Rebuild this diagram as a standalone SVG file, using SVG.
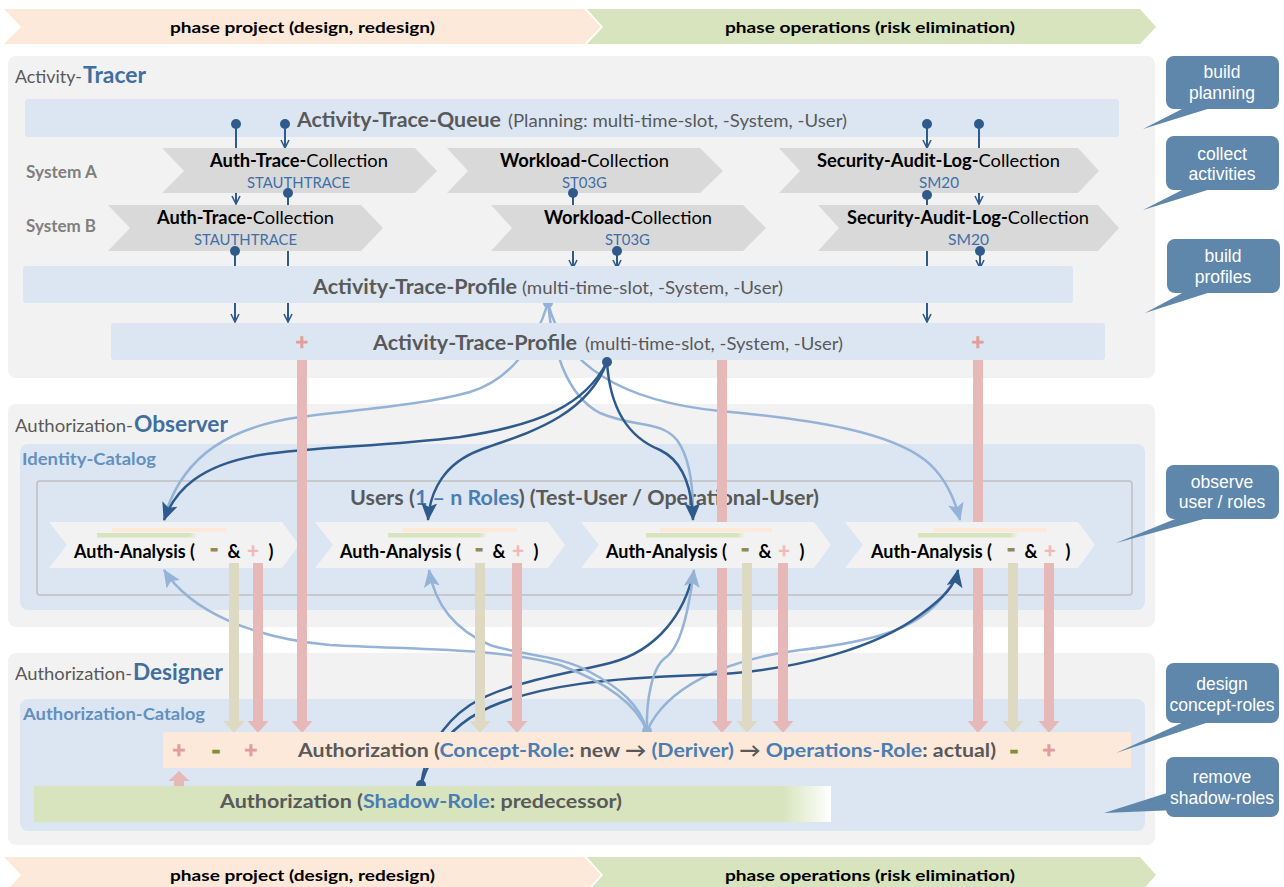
<svg xmlns="http://www.w3.org/2000/svg" width="1284" height="887" viewBox="0 0 1284 887">
<defs>
<style>
text{font-family:Lato,'Liberation Sans',sans-serif}
.b{font-weight:700}
.g{fill:#595959}
.k{fill:#000}
.tb{fill:#3F6FA0}
.lb{fill:#4A7DB3}
.cb{fill:#6390BF}
.st{fill:#3F6FA8}
.sy{fill:#7F7F7F}
.panel{fill:#F2F2F2}
.cat{fill:#DCE6F2}
.bar{fill:#DCE6F2}
.chev{fill:#D9D9D9}
.ach{fill:#F2F2F2}
.dot{fill:#2F5A8C}
.ln{stroke:#2F5A8C;stroke-width:2;fill:none}
.cl{stroke:#95B3D7;stroke-width:2.5;fill:none}
.cd{stroke:#2F5A8C;stroke-width:2.5;fill:none}
.pk{fill:#E6B9B8}
.bg{fill:#DDD9C3}
.pl{fill:#E39D9C;stroke:#E39D9C;stroke-width:0.6}
.ol{fill:#948A54;stroke:#948A54;stroke-width:1.2}
.gr{fill:#77933C;stroke:#77933C;stroke-width:1.2}
.pa{fill:#F0B9B8;stroke:#F0B9B8;stroke-width:0.4}
.co{fill:#5E87AB}
.ct{font-family:'Liberation Sans',Arial,sans-serif;font-size:17.5px;fill:#FFFFFF;text-anchor:middle}
</style>
<marker id="as" viewBox="0 0 10 10" refX="9" refY="5" markerWidth="10" markerHeight="10" markerUnits="userSpaceOnUse" orient="auto"><path d="M1,1 L9,5 L1,9" fill="none" stroke="#2F5A8C" stroke-width="1.6"/></marker>
<marker id="aD" viewBox="0 0 18 16" refX="17" refY="8" markerWidth="18" markerHeight="16" markerUnits="userSpaceOnUse" orient="auto"><path d="M0,0 L18,8 L0,16 L4,8 Z" fill="#2F5A8C"/></marker>
<marker id="aL" viewBox="0 0 18 16" refX="17" refY="8" markerWidth="18" markerHeight="16" markerUnits="userSpaceOnUse" orient="auto"><path d="M0,0 L18,8 L0,16 L4,8 Z" fill="#95B3D7"/></marker>
<linearGradient id="shg" x1="34" y1="0" x2="831" y2="0" gradientUnits="userSpaceOnUse"><stop offset="0" stop-color="#D7E4BD"/><stop offset="0.94" stop-color="#D7E4BD"/><stop offset="1" stop-color="#FFFFFF"/></linearGradient>
<linearGradient id="gf" x1="0" y1="0" x2="1" y2="0"><stop offset="0" stop-color="#D7E4BD"/><stop offset="0.92" stop-color="#D7E4BD"/><stop offset="1" stop-color="#F2F2F2"/></linearGradient>
</defs>

<g id="banner-top">
<polygon points="4,9 584,9 601,27 584,44 4,44 21,27" fill="#FDE9D9"/>
<polygon points="587,9 1140,9 1156,27 1140,44 587,44 603,27" fill="#D7E4BD"/>
<text x="170" y="33" font-size="16" class="b k" textLength="265" lengthAdjust="spacingAndGlyphs">phase project (design, redesign)</text>
<text x="725" y="33" font-size="16" class="b k" textLength="290" lengthAdjust="spacingAndGlyphs">phase operations (risk elimination)</text>
</g>
<g id="banner-bottom">
<polygon points="4,857 584,857 601,875 584,893 4,893 21,875" fill="#FDE9D9"/>
<polygon points="587,857 1140,857 1156,875 1140,893 587,893 603,875" fill="#D7E4BD"/>
<text x="170" y="881" font-size="16" class="b k" textLength="265" lengthAdjust="spacingAndGlyphs">phase project (design, redesign)</text>
<text x="725" y="881" font-size="16" class="b k" textLength="290" lengthAdjust="spacingAndGlyphs">phase operations (risk elimination)</text>
</g>

<g id="panel-tracer">
<rect class="panel" x="8" y="56" width="1147" height="322" rx="8"/>
<text x="15" y="83" font-size="17.5" class="g" textLength="67" lengthAdjust="spacingAndGlyphs">Activity-</text>
<text x="83" y="83" font-size="22" class="b tb" textLength="63" lengthAdjust="spacingAndGlyphs">Tracer</text>
<text x="26" y="178" font-size="16.5" class="b sy" textLength="71" lengthAdjust="spacingAndGlyphs">System A</text>
<text x="26" y="232" font-size="16.5" class="b sy" textLength="70" lengthAdjust="spacingAndGlyphs">System B</text>
</g>
<g id="panel-observer">
<rect class="panel" x="8" y="404" width="1147" height="223" rx="8"/>
<text x="15" y="432" font-size="18" class="g" textLength="118" lengthAdjust="spacingAndGlyphs">Authorization-</text>
<text x="134" y="432" font-size="23" class="b tb" textLength="94" lengthAdjust="spacingAndGlyphs">Observer</text>
</g>
<g id="panel-designer">
<rect class="panel" x="8" y="653" width="1147" height="192" rx="8"/>
<text x="15" y="680" font-size="18" class="g" textLength="117" lengthAdjust="spacingAndGlyphs">Authorization-</text>
<text x="133" y="680" font-size="23" class="b tb" textLength="90" lengthAdjust="spacingAndGlyphs">Designer</text>
</g>
<g id="identity-catalog">
<rect class="cat" x="20" y="444" width="1125" height="166" rx="8"/>
<text x="22" y="465" font-size="17.5" class="b cb" textLength="134" lengthAdjust="spacingAndGlyphs">Identity-Catalog</text>
</g>
<g id="authorization-catalog">
<rect class="cat" x="20" y="699" width="1125" height="132" rx="8"/>
<text x="23" y="720" font-size="17.5" class="b cb" textLength="182" lengthAdjust="spacingAndGlyphs">Authorization-Catalog</text>
</g>
<g id="users">
<rect x="37" y="481" width="1095" height="114" rx="3" fill="none" stroke="#BFBFBF" stroke-width="1.5"/>
<text x="350" y="505" font-size="20.5" class="b g" textLength="469" lengthAdjust="spacingAndGlyphs">Users (<tspan class="lb">1 – n Roles</tspan>) (Test-User  / Operational-User)</text>
</g>

<g id="queue">
<rect class="bar" x="25" y="99" width="1094" height="38" rx="3"/>
<text x="297" y="127" font-size="21" class="b g" textLength="204" lengthAdjust="spacingAndGlyphs">Activity-Trace-Queue</text>
<text x="508" y="127" font-size="17.5" class="g" textLength="339" lengthAdjust="spacingAndGlyphs">(Planning: multi-time-slot, -System, -User)</text>
<circle class="dot" cx="236" cy="124" r="5"/>
<circle class="dot" cx="285" cy="124" r="5"/>
<circle class="dot" cx="927" cy="124" r="5"/>
<circle class="dot" cx="979" cy="124" r="5"/>
</g>

<g id="analysis-1">
<polygon class="ach" points="49,522 282,522 299,545 282,568 49,568 67,545"/>
<rect x="112" y="528" width="114" height="4" fill="#FDE9D9"/>
<rect x="97" y="533" width="100" height="4.5" fill="url(#gf)"/>
<text x="74" y="558" font-size="18" class="b k" textLength="121" lengthAdjust="spacingAndGlyphs">Auth-Analysis (</text>
<text x="214" y="557" font-size="22" class="b ol" text-anchor="middle">-</text>
<text x="234" y="558" font-size="18" class="b k" text-anchor="middle">&amp;</text>
<text x="253" y="558" font-size="20" class="b pa" text-anchor="middle">+</text>
<text x="271" y="558" font-size="18" class="b k" text-anchor="middle">)</text>
</g>
<g id="analysis-2">
<polygon class="ach" points="315,522 548,522 565,545 548,568 315,568 333,545"/>
<rect x="402" y="528" width="115" height="4" fill="#FDE9D9"/>
<rect x="388" y="533" width="99" height="4.5" fill="url(#gf)"/>
<text x="340" y="558" font-size="18" class="b k" textLength="121" lengthAdjust="spacingAndGlyphs">Auth-Analysis (</text>
<text x="479" y="557" font-size="22" class="b ol" text-anchor="middle">-</text>
<text x="499" y="558" font-size="18" class="b k" text-anchor="middle">&amp;</text>
<text x="518" y="558" font-size="20" class="b pa" text-anchor="middle">+</text>
<text x="536" y="558" font-size="18" class="b k" text-anchor="middle">)</text>
</g>
<g id="analysis-3">
<polygon class="ach" points="581,522 814,522 831,545 814,568 581,568 599,545"/>
<rect x="660" y="528" width="112" height="4" fill="#FDE9D9"/>
<rect x="646" y="533" width="99" height="4.5" fill="url(#gf)"/>
<text x="606" y="558" font-size="18" class="b k" textLength="121" lengthAdjust="spacingAndGlyphs">Auth-Analysis (</text>
<text x="745" y="557" font-size="22" class="b ol" text-anchor="middle">-</text>
<text x="765" y="558" font-size="18" class="b k" text-anchor="middle">&amp;</text>
<text x="784" y="558" font-size="20" class="b pa" text-anchor="middle">+</text>
<text x="802" y="558" font-size="18" class="b k" text-anchor="middle">)</text>
</g>
<g id="analysis-4">
<polygon class="ach" points="845,522 1078,522 1095,545 1078,568 845,568 863,545"/>
<rect x="934" y="528" width="113" height="4" fill="#FDE9D9"/>
<rect x="918" y="533" width="100" height="4.5" fill="url(#gf)"/>
<text x="871" y="558" font-size="18" class="b k" textLength="121" lengthAdjust="spacingAndGlyphs">Auth-Analysis (</text>
<text x="1011" y="557" font-size="22" class="b ol" text-anchor="middle">-</text>
<text x="1031" y="558" font-size="18" class="b k" text-anchor="middle">&amp;</text>
<text x="1050" y="558" font-size="20" class="b pa" text-anchor="middle">+</text>
<text x="1068" y="558" font-size="18" class="b k" text-anchor="middle">)</text>
</g>

<g id="connectors">
<path class="ln" d="M236,124V204" marker-end="url(#as)"/>
<path class="ln" d="M285,124V148" marker-end="url(#as)"/>
<path class="ln" d="M288,193V322" marker-end="url(#as)"/>
<path class="ln" d="M235,251V322" marker-end="url(#as)"/>
<path class="ln" d="M573,193V268" marker-end="url(#as)"/>
<path class="ln" d="M617,251V268" marker-end="url(#as)"/>
<path class="ln" d="M927,124V148" marker-end="url(#as)"/>
<path class="ln" d="M979,124V204" marker-end="url(#as)"/>
<path class="ln" d="M927,195V322" marker-end="url(#as)"/>
<path class="ln" d="M980,251V268" marker-end="url(#as)"/>

<path class="cl" d="M548,303 C535,345 510,380 470,392 C420,406 350,410 300,417 C230,427 185,455 166,512"/>
<path class="cl" d="M548,303 C552,345 565,395 600,413 C635,428 660,420 677,440 C690,458 693,490 693,512"/>
<path class="cl" d="M548,303 C565,370 630,402 720,411 C820,420 890,433 925,460 C945,476 955,500 960,520" marker-end="url(#aL)"/>

<path class="cd" d="M607,362 C585,405 540,425 460,437 C380,447 320,446 260,455 C200,465 175,490 164,520" marker-end="url(#aD)"/>
<path class="cd" d="M607,362 C585,420 520,435 480,450 C445,463 430,490 428,520" marker-end="url(#aD)"/>
<path class="cd" d="M607,362 C610,410 630,438 660,450 C685,462 692,490 693,520" marker-end="url(#aD)"/>

<path class="cl" d="M647,731 C665,690 720,660 800,650 C870,642 915,630 940,600 C950,588 955,580 957,574"/>
<path class="cd" d="M421,785 C425,755 440,725 470,705 C505,683 560,675 610,663 C660,650 685,610 693,574"/>
<path class="cd" d="M421,785 C430,755 450,725 490,707 C540,685 610,678 700,675 C800,672 880,645 920,615 C945,597 955,585 958,570" marker-end="url(#aD)"/>
<path class="cl" d="M647,731 C635,700 600,680 560,665 C500,648 420,650 330,645 C250,638 190,610 164,570" marker-end="url(#aL)"/>
<path class="cl" d="M647,731 C640,705 620,688 590,672 C560,655 520,655 490,645 C455,630 435,605 429,570" marker-end="url(#aL)"/>
<path class="cl" d="M647,731 C646,700 652,668 665,658 C680,648 688,615 694,570" marker-end="url(#aL)"/>

<circle cx="548" cy="303" r="5" fill="#95B3D7"/>
<circle cx="647" cy="731" r="5" fill="#95B3D7"/>
<circle cx="421" cy="785" r="5" fill="#2F5A8C"/>

<polygon class="pk" points="297,355 307,355 307,721 312.5,721 302,733 291.5,721 297,721"/>
<rect class="pk" x="717" y="355" width="10" height="167"/>
<polygon class="pk" points="717,568 727,568 727,721 732.5,721 722,733 711.5,721 717,721"/>
<rect class="pk" x="973" y="355" width="10" height="167"/>
<polygon class="pk" points="973,568 983,568 983,721 988.5,721 978,733 967.5,721 973,721"/>
<polygon class="bg" points="229,563 239,563 239,721 244.5,721 234,733 223.5,721 229,721"/>
<polygon class="bg" points="475,563 485,563 485,721 490.5,721 480,733 469.5,721 475,721"/>
<polygon class="bg" points="742,563 752,563 752,721 757.5,721 747,733 736.5,721 742,721"/>
<polygon class="bg" points="1008,563 1018,563 1018,721 1023.5,721 1013,733 1002.5,721 1008,721"/>
<polygon class="pk" points="253,563 263,563 263,721 268.5,721 258,733 247.5,721 253,721"/>
<polygon class="pk" points="512,563 522,563 522,721 527.5,721 517,733 506.5,721 512,721"/>
<polygon class="pk" points="778,563 788,563 788,721 793.5,721 783,733 772.5,721 778,721"/>
<polygon class="pk" points="1044,563 1054,563 1054,721 1059.5,721 1049,733 1038.5,721 1044,721"/>
<polygon class="pk" points="174,791 184,791 184,781 189.5,781 179,771 168.5,781 174,781"/>
</g>

<g id="collect-a1">
<polygon class="chev" points="162,148 415,148 437,171 415,193 162,193 184,171"/>
<text x="210" y="167" font-size="18" class="k" textLength="178" lengthAdjust="spacingAndGlyphs"><tspan class="b">Auth-Trace-</tspan>Collection</text>
<text x="247" y="188" font-size="15.5" class="st" textLength="103" lengthAdjust="spacingAndGlyphs">STAUTHTRACE</text>
<circle class="dot" cx="288" cy="193" r="5"/>
</g>
<g id="collect-a2">
<polygon class="chev" points="447,148 700,148 723,171 700,193 447,193 468,171"/>
<text x="500" y="167" font-size="18" class="k" textLength="169" lengthAdjust="spacingAndGlyphs"><tspan class="b">Workload-</tspan>Collection</text>
<text x="562" y="188" font-size="15.5" class="st" textLength="45" lengthAdjust="spacingAndGlyphs">ST03G</text>
<circle class="dot" cx="573" cy="193" r="5"/>
</g>
<g id="collect-a3">
<polygon class="chev" points="779,148 1078,148 1099,171 1078,193 779,193 800,171"/>
<text x="817" y="167" font-size="18" class="k" textLength="243" lengthAdjust="spacingAndGlyphs"><tspan class="b">Security-Audit-Log-</tspan>Collection</text>
<text x="919" y="188" font-size="15.5" class="st" textLength="40" lengthAdjust="spacingAndGlyphs">SM20</text>
<circle class="dot" cx="927" cy="195" r="5"/>
</g>
<g id="collect-b1">
<polygon class="chev" points="108,205 361,205 383,228 361,251 108,251 130,228"/>
<text x="157" y="224" font-size="18" class="k" textLength="177" lengthAdjust="spacingAndGlyphs"><tspan class="b">Auth-Trace-</tspan>Collection</text>
<text x="194" y="245" font-size="15.5" class="st" textLength="103" lengthAdjust="spacingAndGlyphs">STAUTHTRACE</text>
<circle class="dot" cx="235" cy="251" r="5"/>
</g>
<g id="collect-b2">
<polygon class="chev" points="491,205 743,205 766,228 743,251 491,251 512,228"/>
<text x="544" y="224" font-size="18" class="k" textLength="168" lengthAdjust="spacingAndGlyphs"><tspan class="b">Workload-</tspan>Collection</text>
<text x="605" y="245" font-size="15.5" class="st" textLength="45" lengthAdjust="spacingAndGlyphs">ST03G</text>
<circle class="dot" cx="617" cy="251" r="5"/>
</g>
<g id="collect-b3">
<polygon class="chev" points="818,205 1098,205 1119,228 1098,251 818,251 839,228"/>
<text x="847" y="224" font-size="18" class="k" textLength="242" lengthAdjust="spacingAndGlyphs"><tspan class="b">Security-Audit-Log-</tspan>Collection</text>
<text x="948" y="245" font-size="15.5" class="st" textLength="41" lengthAdjust="spacingAndGlyphs">SM20</text>
<circle class="dot" cx="980" cy="251" r="5"/>
</g>

<g id="profile-1">
<rect class="bar" x="23" y="266" width="1050" height="37" rx="3"/>
<text x="313" y="294" font-size="20.5" class="b g" textLength="204" lengthAdjust="spacingAndGlyphs">Activity-Trace-Profile</text>
<text x="522" y="294" font-size="17.5" class="g" textLength="261" lengthAdjust="spacingAndGlyphs">(multi-time-slot, -System, -User)</text>
</g>
<g id="profile-2">
<rect class="bar" x="111" y="323" width="994" height="37" rx="3"/>
<text x="373" y="350" font-size="20.5" class="b g" textLength="204" lengthAdjust="spacingAndGlyphs">Activity-Trace-Profile</text>
<text x="585" y="350" font-size="17.5" class="g" textLength="258" lengthAdjust="spacingAndGlyphs">(multi-time-slot, -System, -User)</text>
<text x="302" y="350" font-size="22" class="b pl" text-anchor="middle">+</text>
<text x="978" y="350" font-size="22" class="b pl" text-anchor="middle">+</text>
<circle class="dot" cx="607" cy="362" r="5"/>
</g>

<g id="authorization">
<rect x="163" y="732" width="968" height="36" fill="#FDE9D9"/>
<text x="179" y="758" font-size="23" class="b pl" text-anchor="middle">+</text>
<text x="216" y="759" font-size="24" class="b gr" text-anchor="middle">-</text>
<text x="251" y="758" font-size="23" class="b pl" text-anchor="middle">+</text>
<text x="298" y="757" font-size="19.5" class="b g" textLength="698" lengthAdjust="spacingAndGlyphs">Authorization (<tspan class="lb">Concept-Role</tspan>: new → <tspan class="lb">(Deriver)</tspan> → <tspan class="lb">Operations-Role</tspan>: actual)</text>
<text x="1014" y="759" font-size="24" class="b gr" text-anchor="middle">-</text>
<text x="1049" y="758" font-size="23" class="b pl" text-anchor="middle">+</text>
</g>
<g id="shadow-role">
<rect x="34" y="786" width="797" height="36" fill="url(#shg)"/>
<text x="220" y="808" font-size="19.5" class="b g" textLength="402" lengthAdjust="spacingAndGlyphs">Authorization (<tspan class="lb">Shadow-Role</tspan>: predecessor)</text>
</g>

<g id="callout-build-planning">
<rect class="co" x="1166" y="56" width="113" height="53" rx="8"/>
<polygon class="co" points="1186,107 1214,107 1143,129"/>
<text class="ct" x="1222" y="78">build</text>
<text class="ct" x="1222" y="99">planning</text>
</g>
<g id="callout-collect-activities">
<rect class="co" x="1166" y="136" width="113" height="54" rx="8"/>
<polygon class="co" points="1186,188 1214,188 1143,210"/>
<text class="ct" x="1222" y="160">collect</text>
<text class="ct" x="1222" y="180">activities</text>
</g>
<g id="callout-build-profiles">
<rect class="co" x="1167" y="239" width="113" height="54" rx="8"/>
<polygon class="co" points="1186,291 1214,291 1145,313"/>
<text class="ct" x="1223" y="262">build</text>
<text class="ct" x="1223" y="283">profiles</text>
</g>
<g id="callout-observe">
<rect class="co" x="1166" y="465" width="113" height="54" rx="8"/>
<polygon class="co" points="1180,517 1211,517 1116,543"/>
<text class="ct" x="1222" y="488">observe</text>
<text class="ct" x="1222" y="508">user / roles</text>
</g>
<g id="callout-design">
<rect class="co" x="1166" y="663" width="113" height="60" rx="8"/>
<polygon class="co" points="1186,721 1212,721 1116,753"/>
<text class="ct" x="1222" y="690">design</text>
<text class="ct" x="1222" y="711">concept-roles</text>
</g>
<g id="callout-remove">
<rect class="co" x="1166" y="757" width="113" height="60" rx="8"/>
<polygon class="co" points="1170,792 1176,810 1104,813"/>
<text class="ct" x="1222" y="783">remove</text>
<text class="ct" x="1222" y="804">shadow-roles</text>
</g>
</svg>
